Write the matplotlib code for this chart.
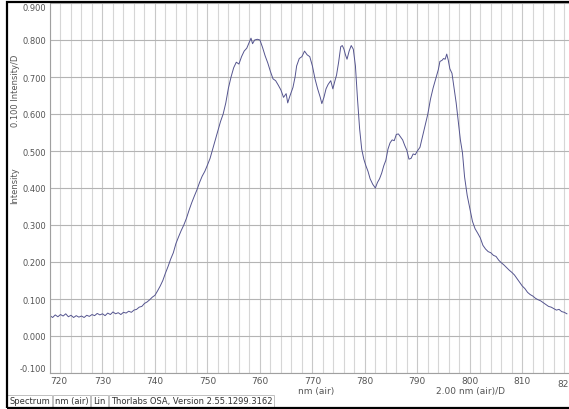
import matplotlib.pyplot as plt
from matplotlib.patches import Rectangle
from matplotlib.ticker import MultipleLocator

# spectrum (nm, intensity)
wavelength = [
    720.0, 720.5, 721.0, 721.5, 722.0, 722.5, 723.0, 723.5, 724.0, 724.5,
    725.0, 725.5, 726.0, 726.5, 727.0, 727.5, 728.0, 728.5, 729.0, 729.5,
    730.0, 730.5, 731.0, 731.5, 732.0, 732.5, 733.0, 733.5, 734.0, 734.5,
    735.0, 735.5, 736.0, 736.5, 737.0, 737.5, 738.0, 738.5, 739.0, 739.5,
    740.0, 740.5, 741.0, 741.5, 742.0, 742.5, 743.0, 743.5, 744.0, 744.5,
    745.0, 745.5, 746.0, 746.5, 747.0, 747.5, 748.0, 748.5, 749.0, 749.5,
    750.0, 750.5, 751.0, 751.5, 752.0, 752.5, 753.0, 753.5, 754.0, 754.5,
    755.0, 755.5, 756.0, 756.5, 757.0, 757.5, 758.0, 758.3, 758.6, 759.0,
    759.5, 760.0, 760.5, 761.0, 761.5, 762.0, 762.5, 763.0, 763.5, 764.0,
    764.5, 765.0, 765.3, 765.7, 766.0, 766.3, 766.7, 767.0, 767.5, 768.0,
    768.5, 769.0, 769.5, 770.0, 770.5, 771.0, 771.5, 771.8, 772.2, 772.6,
    773.0, 773.5, 773.9, 774.3, 774.6, 775.0, 775.4, 775.7, 776.0, 776.3,
    776.6, 777.0, 777.4, 777.8, 778.2, 778.6, 779.0, 779.4, 779.8, 780.2,
    780.6, 781.0, 781.5, 782.0, 782.4, 782.8, 783.2, 783.6, 784.0, 784.4,
    784.8, 785.2, 785.6, 786.0, 786.4, 786.8, 787.2, 787.6, 788.0, 788.4,
    788.8, 789.2, 789.6, 790.0, 790.5, 791.0, 791.5, 792.0, 792.5, 793.0,
    793.5, 794.0, 794.3, 794.7, 795.0, 795.3, 795.6, 795.9, 796.2, 796.6,
    797.0, 797.4, 797.8, 798.2, 798.6, 799.0, 799.5, 800.0, 800.5, 801.0,
    801.5, 802.0, 802.5, 803.0, 803.5, 804.0, 804.5, 805.0, 805.5, 806.0,
    806.5, 807.0, 807.5, 808.0, 808.5, 809.0, 809.5, 810.0, 810.5, 811.0,
    811.5, 812.0, 812.5, 813.0, 813.5, 814.0, 814.5, 815.0, 815.5, 816.0,
    816.5, 817.0, 817.5, 818.0, 818.5,
]
intensity = [
    0.055, 0.050, 0.057, 0.052, 0.058, 0.054, 0.060, 0.052, 0.056, 0.050,
    0.055, 0.051, 0.054, 0.050, 0.056, 0.053, 0.058, 0.055, 0.061, 0.057,
    0.060, 0.055, 0.062, 0.058, 0.065, 0.060, 0.063, 0.058, 0.064, 0.062,
    0.067, 0.064, 0.070, 0.072, 0.078, 0.080, 0.088, 0.092, 0.098, 0.105,
    0.110, 0.122, 0.135, 0.150, 0.170, 0.188, 0.208, 0.225, 0.250, 0.268,
    0.285, 0.300, 0.318, 0.340, 0.360, 0.378, 0.395, 0.415, 0.432, 0.445,
    0.462, 0.480, 0.505, 0.530, 0.555, 0.580, 0.600, 0.630, 0.670, 0.700,
    0.725, 0.740, 0.735, 0.755, 0.770, 0.778, 0.795, 0.805, 0.790, 0.800,
    0.802, 0.800, 0.780, 0.757, 0.738, 0.715, 0.695, 0.690, 0.678, 0.665,
    0.645, 0.655, 0.630, 0.648, 0.660, 0.672, 0.700, 0.730, 0.750, 0.755,
    0.770, 0.760, 0.755, 0.730, 0.695, 0.668, 0.645, 0.628, 0.645, 0.668,
    0.680, 0.690, 0.668, 0.690, 0.705, 0.740, 0.782, 0.785, 0.776, 0.760,
    0.748, 0.770, 0.785, 0.775, 0.730, 0.640, 0.560, 0.505, 0.478, 0.460,
    0.445, 0.425, 0.410, 0.400, 0.415, 0.425, 0.440, 0.460, 0.475, 0.505,
    0.522, 0.530, 0.528, 0.545, 0.546, 0.538, 0.530, 0.515, 0.502, 0.478,
    0.480, 0.492, 0.490, 0.500, 0.510, 0.540, 0.570, 0.600, 0.640, 0.670,
    0.695, 0.720, 0.742, 0.745, 0.750, 0.748, 0.762, 0.745, 0.722, 0.710,
    0.670, 0.630, 0.580, 0.530, 0.495, 0.430, 0.380, 0.345, 0.310, 0.290,
    0.278, 0.265, 0.245, 0.235, 0.228, 0.225, 0.218, 0.215, 0.205, 0.198,
    0.192, 0.185, 0.178, 0.172, 0.165, 0.155, 0.145, 0.135, 0.128, 0.118,
    0.112, 0.108, 0.102, 0.098, 0.095, 0.090, 0.085, 0.080, 0.078, 0.074,
    0.070, 0.072, 0.066, 0.064, 0.060,
]

x_ticks = [720, 730, 740, 750, 760, 770, 780, 790, 800, 810]
y_ticks = [-0.1, 0.0, 0.1, 0.2, 0.3, 0.4, 0.5, 0.6, 0.7, 0.8, 0.9]
status_items = ["Spectrum", "nm (air)", "Lin", "Thorlabs OSA, Version 2.55.1299.3162"]

W, H = 569, 410
fig = plt.figure(figsize=(W / 100, H / 100), dpi=100)
fig.patch.set_facecolor("white")

ax = fig.add_axes([50 / W, (H - 374) / H, (W - 50) / W, 370 / H])
ax.plot(wavelength, intensity, color="#55558f", lw=0.7)

ax.set_xlim(720, 818.9)
ax.set_ylim(-0.1, 0.9)
ax.set_xticks(x_ticks)
ax.xaxis.set_minor_locator(MultipleLocator(2))
ax.set_yticks(y_ticks)
ax.set_yticklabels([f"{v:.3f}" for v in y_ticks])

ax.grid(which="minor", axis="x", color="#d6d6d6", lw=0.8)
ax.grid(which="major", axis="x", color="#c8c8c8", lw=0.8)
ax.grid(which="major", axis="y", color="#b4b4b4", lw=0.8)
ax.tick_params(which="both", length=0)
ax.tick_params(axis="y", labelsize=6, labelcolor="#555555", pad=3)
ax.tick_params(axis="x", labelsize=6.5, labelcolor="#555555", pad=2)
for s in ["left", "bottom"]:
    ax.spines[s].set_color("#a0a0a0")
    ax.spines[s].set_linewidth(0.8)
ax.spines["right"].set_visible(False)
ax.spines["top"].set_visible(False)

# edge labels pushed inside like the OSA software does
ylabels = ax.get_yticklabels()
ylabels[0].set_va("bottom")
ylabels[-1].set_va("top")
ax.get_xticklabels()[0].set_ha("left")
# last tick label, partly off the right edge as in the reference
ax.text(816.6, -0.117, "820", ha="left", va="top",
        fontsize=6.5, color="#555555", clip_on=False)

fig.text(15 / W, 1 - 91 / H, "0.100 Intensity/D", rotation=90, ha="center",
         va="center", fontsize=6, color="#555555")
fig.text(15 / W, 1 - 186 / H, "Intensity", rotation=90, ha="center",
         va="center", fontsize=6, color="#555555")
fig.text(316 / W, 1 - 392 / H, "nm (air)", ha="center", va="center",
         fontsize=6.5, color="#555555")
fig.text(470 / W, 1 - 392 / H, "2.00 nm (air)/D", ha="center", va="center",
         fontsize=6.5, color="#555555")

# status bar
x = 9
for item in status_items:
    t = fig.text(x / W, 1 - 402 / H, item, ha="left", va="center",
                 fontsize=6, color="#333333")
    fig.canvas.draw()
    bb = t.get_window_extent()
    w = bb.width + 4
    fig.add_artist(Rectangle(((x - 2) / W, (H - 408) / H), w / W, 12 / H,
                             transform=fig.transFigure, fill=False,
                             edgecolor="#c0c0c0", lw=0.7))
    x += w + 1

# outer black frame
fig.add_artist(Rectangle((7 / W, 1.5 / H), (W + 5) / W, (H - 4) / H,
                         transform=fig.transFigure, fill=False,
                         edgecolor="black", lw=1.6))

fig.savefig("out.png", dpi=100)
